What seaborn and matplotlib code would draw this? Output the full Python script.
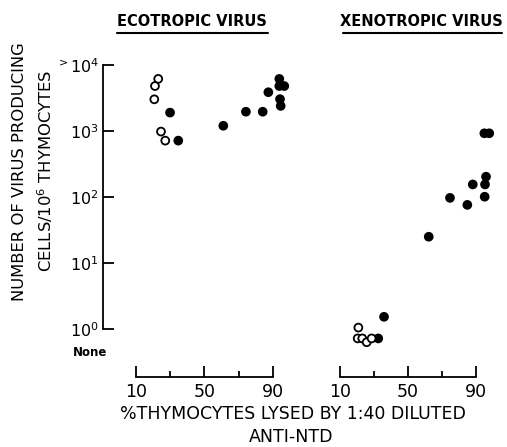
import matplotlib
matplotlib.use("Agg")
import pandas as pd
import matplotlib.pyplot as plt
import seaborn as sns
from matplotlib.lines import Line2D
from matplotlib.ticker import FixedLocator, NullLocator

# Ecotropic virus panel (open vs filled symbols)
eco_open_x = [23.0, 21.1, 20.7, 24.6, 27.1]
eco_open_y = [6160, 4800, 3020, 980, 715]
eco_filled_x = [29.9, 34.7, 61.0, 74.2, 84.0, 87.3, 93.7, 93.7, 96.6, 94.1, 94.5]
eco_filled_y = [1900, 715, 1200, 1960, 1960, 3870, 6160, 4800, 4800, 3040, 2400]

# Xenotropic virus panel (values below 10^0 sit on the "None" row)
xeno_open_x = [20.8, 20.4, 23.1, 25.7, 28.6]
xeno_open_y = [1.05, 0.72, 0.72, 0.63, 0.72]
xeno_filled_x = [32.5, 35.9, 62.2, 74.7, 84.9, 88.1, 95.1, 95.3, 95.9, 94.9, 97.8]
xeno_filled_y = [0.72, 1.53, 25, 97, 76, 155, 101, 155, 203, 923, 923]

panel_titles = ["ECOTROPIC VIRUS", "XENOTROPIC VIRUS"]
x_ticks = [10, 30, 50, 70, 90]
x_ticklabels = ["10", "", "50", "", "90"]
y_ticks = [1, 10, 100, 1000, 10000]
y_ticklabels = [r"$10^0$", r"$10^1$", r"$10^2$", r"$10^3$", r"$^{>}10^4$"]

sns.set_style("ticks")
plt.rcParams["font.family"] = ["DejaVu Sans"]
plt.rcParams["mathtext.default"] = "regular"
for key in ["text.color", "axes.labelcolor", "xtick.color", "ytick.color", "axes.edgecolor"]:
    plt.rcParams[key] = "black"

W, H = 507, 447
fig = plt.figure(figsize=(W / 100, H / 100), dpi=100)


def px_axes(x0, x1, ytop, ybot):
    return fig.add_axes([x0 / W, 1 - ybot / H, (x1 - x0) / W, (ybot - ytop) / H])


ax_eco = px_axes(125.7, 290.1, 45.2, 345.5)
ax_xeno = px_axes(329.8, 496.4, 45.2, 345.5)


def draw_panel(ax, ox, oy, fx, fy, xmax):
    df = pd.DataFrame({
        "pct": fx + ox,
        "cells": fy + oy,
        "kind": ["filled"] * len(fx) + ["open"] * len(ox),
    })
    sns.scatterplot(data=df, x="pct", y="cells", hue="kind",
                    palette={"filled": "black", "open": "white"},
                    edgecolor="black", linewidth=1.3, s=32, legend=False,
                    ax=ax, clip_on=False, zorder=3)
    ax.set_yscale("log")
    ax.set_ylim(10 ** -0.25, 10 ** 4.3)
    ax.set_xlim(4, xmax)
    ax.set_xlabel("")
    ax.set_ylabel("")
    ax.spines[["top", "right"]].set_visible(False)
    ax.spines["bottom"].set_position(("outward", 22.7))
    ax.spines["bottom"].set_bounds(10, 90)
    ax.spines["bottom"].set_linewidth(1.3)
    ax.xaxis.set_major_locator(FixedLocator([t for t, l in zip(x_ticks, x_ticklabels) if l]))
    ax.set_xticklabels([l for l in x_ticklabels if l])
    ax.xaxis.set_minor_locator(FixedLocator([t for t, l in zip(x_ticks, x_ticklabels) if not l]))
    ax.tick_params(axis="x", which="major", direction="in", length=8, width=1.3,
                   labelsize=12.5, pad=4)
    ax.tick_params(axis="x", which="minor", direction="in", length=4.5, width=1.3)
    ax.yaxis.set_minor_locator(NullLocator())


draw_panel(ax_eco, eco_open_x, eco_open_y, eco_filled_x, eco_filled_y, 100)
draw_panel(ax_xeno, xeno_open_x, xeno_open_y, xeno_filled_x, xeno_filled_y, 102)

# y axis only on the left panel, detached from the data
ax_eco.spines["left"].set_position(("outward", 16.3))
ax_eco.spines["left"].set_bounds(1, 10000)
ax_eco.spines["left"].set_linewidth(1.3)
ax_eco.set_yticks(y_ticks)
ax_eco.set_yticklabels(y_ticklabels)
ax_eco.yaxis.set_minor_locator(NullLocator())
ax_eco.tick_params(axis="y", which="major", direction="in", length=8, width=1.3,
                   labelsize=11.5, pad=3)

ax_xeno.spines["left"].set_visible(False)
ax_xeno.tick_params(axis="y", which="both", left=False, labelleft=False)

# panel titles with underline
for title, xc, (u0, u1) in zip(panel_titles, [192, 421], [(117, 268), (343, 502)]):
    fig.text(xc / W, 1 - 22 / H, title, ha="center", va="center",
             fontsize=10.5, fontweight="bold")
    fig.add_artist(Line2D([u0 / W, u1 / W], [1 - 33 / H, 1 - 33 / H],
                          transform=fig.transFigure, color="black", lw=1.5))

fig.text(90 / W, 1 - 353 / H, "None", ha="center", va="center",
         fontsize=8.5, fontweight="bold")

fig.text(20 / W, 1 - 172 / H, "NUMBER OF VIRUS PRODUCING", rotation=90,
         ha="center", va="center", fontsize=11.8)
fig.text(45 / W, 1 - 171 / H, r"CELLS/10$^6$ THYMOCYTES", rotation=90,
         ha="center", va="center", fontsize=11.8)

fig.text(293 / W, 1 - 414 / H, "%THYMOCYTES LYSED BY 1:40 DILUTED",
         ha="center", va="center", fontsize=12.5)
fig.text(291 / W, 1 - 437 / H, "ANTI-NTD", ha="center", va="center", fontsize=12.5)

fig.savefig("out.png", dpi=100)
